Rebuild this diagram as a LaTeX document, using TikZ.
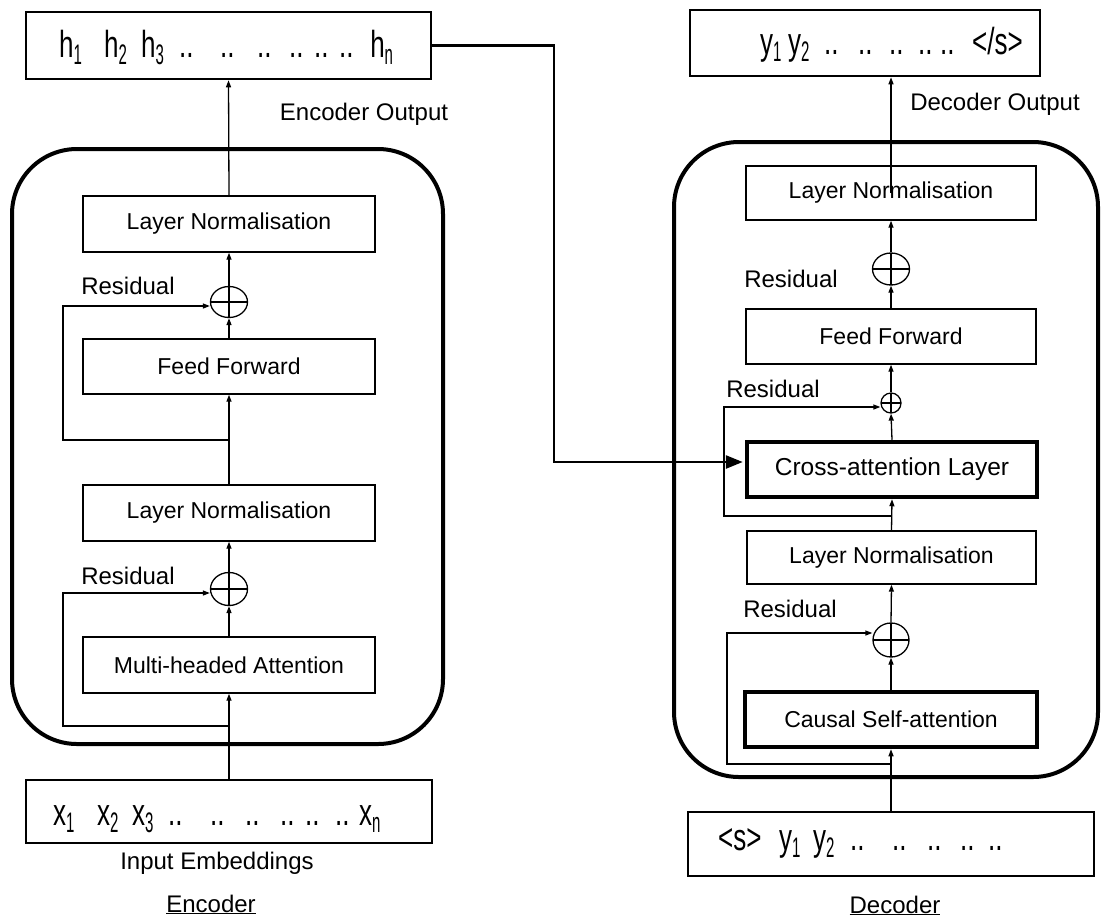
\documentclass[tikz,border=0pt]{standalone}
\usepackage{fontspec}
\setmainfont{Liberation Sans}
\usetikzlibrary{arrows.meta,shapes.geometric}

% token sequences: lowered index, fixed advance per token, tall type
\newcommand\lowidx[1]{\raisebox{-5.5pt}{\fontsize{15}{15}\selectfont\scalebox{1}[1.3]{#1}}}
\newcommand\tok[2]{\rlap{#2}\hspace{#1pt}}
\newcommand\seqtext[1]{\fontsize{26}{26}\selectfont\scalebox{1}[1.45]{#1}}

\tikzset{
  unit/.style={draw, line width=1.4pt, inner sep=0pt, minimum height=55pt,
    font=\fontsize{23}{27}\selectfont},
  heavy/.style={unit, line width=4.5pt},
  seqbox/.style={draw, line width=2.6pt, inner sep=0pt},
  lbl/.style={inner sep=0pt, font=\fontsize{24}{28}\selectfont},
  addop/.style={draw, ellipse, line width=1.3pt, inner sep=0pt,
    path picture={\draw[line width=1.3pt]
      (path picture bounding box.north) -- (path picture bounding box.south)
      (path picture bounding box.west) -- (path picture bounding box.east);}},
  flow/.style={line width=1.3pt, -{Triangle[length=7pt,width=5pt]}},
  stack/.style={line width=4pt, rounded corners=65pt},
  bridge/.style={line width=2.7pt, -{Triangle[length=17pt,width=13pt]}}
}

\begin{document}
\begin{tikzpicture}[x=1pt,y=-1pt]
\useasboundingbox (0,0) rectangle (1102,919);

% ---------------- encoder ----------------
\draw[stack] (12,149) rectangle (443,744);

\node[seqbox, minimum width=405pt, minimum height=67pt] (hbox) at (228.5,45.5) {};
\node[anchor=base west, inner sep=0pt] (hseq) at (59,57) {\seqtext{%
  \tok{45}{h\lowidx{1}}\tok{37}{h\lowidx{2}}\tok{38}{h\lowidx{3}}%
  \tok{41}{..}\tok{37}{..}\tok{32}{..}\tok{25}{..}\tok{25}{..}\tok{31}{..}h\lowidx{n}}};
\node[lbl, anchor=base] (encout) at (364,120) {Encoder Output};

\node[unit, minimum width=292pt, minimum height=56pt] (lnA) at (229,224) {Layer Normalisation};
\node[addop, minimum width=37pt, minimum height=31pt] (op1) at (229,302) {};
\node[unit, minimum width=292pt] (ffA) at (229,366.5) {Feed Forward\hspace{14pt}};
\node[unit, minimum width=292pt, minimum height=56pt] (lnB) at (229,513) {Layer Normalisation};
\node[addop, minimum width=37pt, minimum height=33pt] (op2) at (229,589) {};
\node[unit, minimum width=292pt, minimum height=56pt] (mha) at (229,665) {Multi-headed Attention\hspace{22pt}};

\node[lbl, anchor=base] (res1) at (128,294) {Residual};
\node[lbl, anchor=base] (res2) at (128,584) {Residual};

\node[seqbox, minimum width=406pt, minimum height=63pt] (xbox) at (229,811.5) {};
\node[anchor=base west, inner sep=0pt] (xseq) at (53,825) {\seqtext{%
  \tok{44}{x\lowidx{1}}\tok{35}{x\lowidx{2}}\tok{36}{x\lowidx{3}}%
  \tok{42}{..}\tok{35}{..}\tok{35}{..}\tok{25}{..}\tok{30}{..}\tok{24}{..}x\lowidx{n}}};
\node[lbl, anchor=base] (inemb) at (217,869) {Input Embeddings};
\node[lbl, anchor=base] (enctitle) at (211,912) {\underline{Encoder}};

\draw[flow] (xbox.north) -- (mha.south);
\draw[flow] (mha.north) -- (op2.south);
\draw[flow] (op2.north) -- (lnB.south);
\draw[flow] (lnB.north) -- (ffA.south);
\draw[flow] (ffA.north) -- (op1.south);
\draw[flow] (op1.north) -- (lnA.south);
\draw[flow] (lnA.north) -- (hbox.south);

\coordinate (ra) at (229,440);
\coordinate (rb) at (229,726);
\draw[flow] (ra) -- (63,440) |- ([yshift=-4pt]op1.west);
\draw[flow] (rb) -- (63,726) |- ([yshift=-4pt]op2.west);

% ---------------- decoder ----------------
\draw[stack] (674,142) rectangle (1098,777);

\node[seqbox, minimum width=350pt, minimum height=66pt] (ybox) at (865,43) {};
\node[anchor=base west, inner sep=0pt] (yseq) at (760,54) {\seqtext{%
  \tok{28}{y\lowidx{1}}\tok{36}{y\lowidx{2}}%
  \tok{34}{..}\tok{31}{..}\tok{29}{..}\tok{22}{..}\tok{32}{..}</s>}};
\node[lbl, anchor=base] (decout) at (995,110) {Decoder Output};

\node[unit, minimum width=290pt, minimum height=54pt] (lnC) at (891,193) {Layer Normalisation};
\node[addop, minimum width=37pt, minimum height=32pt] (op3) at (891,269) {};
\node[unit, minimum width=290pt] (ffB) at (891,336.5) {Feed Forward};
\node[addop, minimum width=20pt, minimum height=20pt] (op4) at (891,403) {};
\node[heavy, minimum width=290pt, font=\fontsize{24.5}{28}\selectfont] (cross) at (892,469.5) {Cross-attention Layer};
\node[unit, minimum width=289pt, minimum height=53pt] (lnD) at (891.5,557.5) {Layer Normalisation};
\node[addop, minimum width=36pt, minimum height=34pt] (op5) at (891,640) {};
\node[heavy, minimum width=292pt] (csa) at (891,719.5) {Causal Self-attention\hspace{20pt}};

\node[lbl, anchor=base] (res3) at (791,287) {Residual};
\node[lbl, anchor=base] (res4) at (773,397) {Residual};
\node[lbl, anchor=base] (res5) at (790,617) {Residual};

\node[seqbox, minimum width=406pt, minimum height=64pt] (ybox2) at (891,844) {};
\node[anchor=base west, inner sep=0pt] (yseq2) at (718,850) {\seqtext{%
  \tok{61}{<s>}\tok{34}{y\lowidx{1}}\tok{37}{y\lowidx{2}}%
  \tok{42}{..}\tok{35}{..}\tok{33}{..}\tok{28}{..}..}};
\node[lbl, anchor=base] (dectitle) at (895,913) {\underline{Decoder}};

\draw[flow] (ybox2.north -| csa.south) -- (csa.south);
\draw[flow] (csa.north) -- (op5.south);
\draw[flow] (op5.north) -- (lnD.south);
\draw[flow] (lnD.north) -- (cross.south);
\draw[flow] (cross.north) -- (op4.south);
\draw[flow] (op4.north) -- (ffB.south);
\draw[flow] (ffB.north) -- (op3.south);
\draw[flow] (op3.north) -- (lnC.south);
\draw[flow] (lnC.center) -- (lnC.center |- ybox.south);

\coordinate (rc) at (891,516);
\coordinate (rd) at (891,764);
\draw[flow] (rc) -- (724,516) |- ([yshift=-4pt]op4.west);
\draw[flow] (rd) -- (727,764) |- ([yshift=7pt]op5.west);

% ---------------- encoder output into cross-attention ----------------
\draw[bridge, shorten >=2pt] (hbox.east) -- (554,45.5) -- (554,462) -- (cross.west |- 554,462);

\end{tikzpicture}
\end{document}
